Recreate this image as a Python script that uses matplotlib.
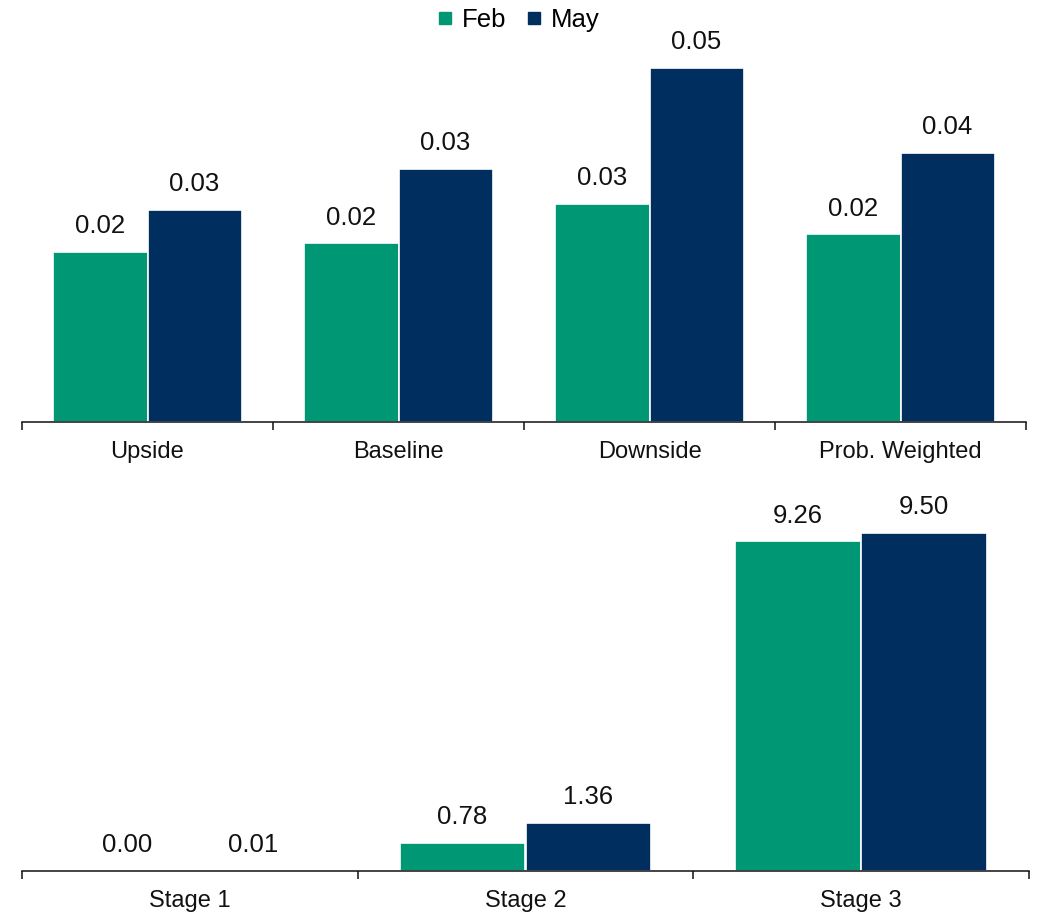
import matplotlib
matplotlib.use("Agg")
import matplotlib.pyplot as plt
from matplotlib.lines import Line2D
import numpy as np

plt.rcParams['font.family'] = ['Liberation Sans', 'DejaVu Sans']

# Scenario results (top panel)
scenarios = ["Upside", "Baseline", "Downside", "Prob. Weighted"]
scen_feb = [0.0224, 0.0235, 0.0287, 0.0247]
scen_may = [0.0279, 0.0333, 0.0466, 0.0354]

# Stage results (bottom panel)
stages = ["Stage 1", "Stage 2", "Stage 3"]
stage_feb = [0.00, 0.78, 9.26]
stage_may = [0.01, 1.36, 9.50]

series_names = ["Feb", "May"]
GREEN = "#009874"
NAVY = "#002F5F"

W, H = 1043, 913
fig = plt.figure(figsize=(W / 100, H / 100), dpi=100)


def px_axes(left, right, top, bottom):
    return fig.add_axes([left / W, (H - bottom) / H, (right - left) / W, (bottom - top) / H])


def draw_panel(ax, cats, feb, may, ymax):
    n = len(cats)
    x = np.arange(n)
    bw = 0.375
    ax.bar(x - bw / 2, feb, bw, color=GREEN, edgecolor="white", linewidth=1.2)
    ax.bar(x + bw / 2, may, bw, color=NAVY, edgecolor="white", linewidth=1.2)
    for xs, vals in ((x - bw / 2, feb), (x + bw / 2, may)):
        for xi, v in zip(xs, vals):
            ax.annotate(f"{v:.2f}", (xi, v), xytext=(0, 13.5), textcoords="offset points",
                        ha="center", va="baseline", fontsize=18.5, color="#111111")
    ax.set_xlim(-0.5, n - 0.5)
    ax.set_ylim(0, ymax)
    for s in ("top", "left", "right"):
        ax.spines[s].set_visible(False)
    ax.spines["bottom"].set_linewidth(1.1)
    ax.spines["bottom"].set_color("#111111")
    ax.set_yticks([])
    ax.set_xticks(x)
    ax.set_xticklabels(cats, fontsize=17, color="#111111")
    ax.tick_params(axis="x", which="major", length=0, pad=14)
    ax.set_xticks(np.arange(n + 1) - 0.5, minor=True)
    ax.tick_params(axis="x", which="minor", length=6, width=1.1, direction="out", color="#111111")


ax1 = px_axes(22, 1026, 40, 422)
draw_panel(ax1, scenarios, scen_feb, scen_may, 382 / 7600)

ax2 = px_axes(22, 1029, 480, 871)
draw_panel(ax2, stages, stage_feb, stage_may, 391 / 35.6)

handles = [Line2D([], [], marker="s", linestyle="none", markersize=8, color=c) for c in (GREEN, NAVY)]
fig.legend(handles, series_names, loc="upper center", bbox_to_anchor=(0.497, 1.017), ncol=2,
           frameon=False, fontsize=18.5, handlelength=0.6, handletextpad=0.35, columnspacing=0.8)

fig.savefig("out.png", dpi=100, facecolor="white")
